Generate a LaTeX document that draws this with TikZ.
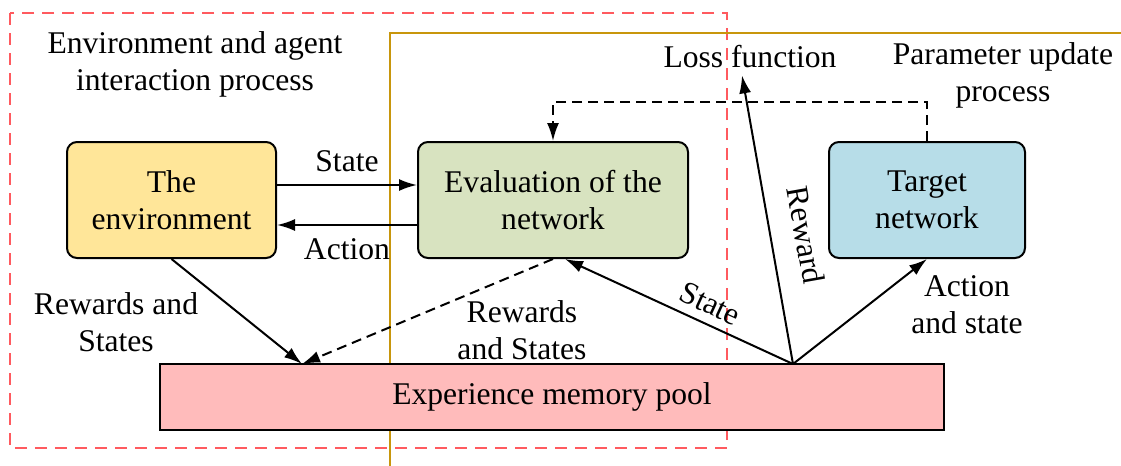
\documentclass[tikz,border=0pt]{standalone}
\usepackage{fontspec}
\setmainfont{Liberation Serif}
\usetikzlibrary{arrows.meta,calc,positioning}

\definecolor{giallo}{HTML}{FFE699}
\definecolor{verde}{HTML}{D8E3C0}
\definecolor{azzurro}{HTML}{B7DDE8}
\definecolor{rosa}{HTML}{FFBBBB}
\definecolor{rossotratto}{HTML}{FF5A5F}
\definecolor{oro}{HTML}{C8960C}

\begin{document}
\begin{tikzpicture}[x=0.5pt,y=-0.5pt,
    font=\fontsize{15.8}{18.5}\selectfont,
    blocco/.style={draw,line width=1pt,rounded corners=5pt,align=center,
      minimum height=58pt},
    freccia/.style={-{Latex[length=9pt,width=6pt]},line width=1pt},
    tratteggio/.style={dash pattern=on 5pt off 3pt}]
    \useasboundingbox (0,0) rectangle (1121,466);

    % the two process frames
    \draw[rossotratto,line width=1pt,dash pattern=on 6pt off 4pt] (10,13) rectangle (727,448);
    \draw[oro,line width=1pt] (390,466) |- (1121,33);

    % blocks
    \node[blocco,fill=giallo,minimum width=104.5pt] (env) at (171.5,200) {The\\environment};
    \node[blocco,fill=verde,minimum width=135pt] (eval) at (553,200) {Evaluation of the\\network};
    \node[blocco,fill=azzurro,minimum width=98pt] (target) at (927,200) {Target\\network};
    \node[draw,line width=1pt,fill=rosa,minimum width=392pt,minimum height=33pt] (pool) at (552,397) {Experience memory pool};

    % texts
    \node[align=center] (envtitle) at (195,64) {Environment and agent\\interaction process};
    \node[align=center] (paramtitle) at (1003,75) {Parameter update\\process};
    \node (loss) at (750,57) {Loss function};

    \coordinate (pin) at (302,364);
    \coordinate (fonte) at (793,364);

    % state / action between env and eval
    \draw[freccia] ([yshift=7.5pt]env.east) -- ([yshift=7.5pt]env.east -| eval.west)
      node[midway,above=3pt] (lstate) {State};
    \draw[freccia] ([yshift=-12.5pt]eval.west) -- ([yshift=-12.5pt]eval.west -| env.east)
      node[midway,below=3pt] (laction) {Action};

    % towards the memory pool
    \draw[freccia] (env.south) -- (pin);
    \node[align=center] (lrew1) at (116,322) {Rewards and\\States};
    \draw[freccia,tratteggio] (eval.south) -- (pin);
    \node[align=center] (lrew2) at (522,330) {Rewards\\and States};

    % out of the memory pool
    \draw[freccia] (fonte) -- ([xshift=6pt]eval.south)
      node[pos=0.4,sloped,above=1pt] (lstate2) {State};
    \draw[freccia] (fonte) -- ([xshift=-4pt]loss.south);
    \node[rotate=-80] (lreward) at (806,235) {Reward};
    \draw[freccia] (fonte) -- (target.south);
    \node[align=center] (lact2) at (967,305) {Action\\and state};

    % parameter update
    \draw[freccia,tratteggio] (target.north) -- ++(0,-39) -| (eval.north);
\end{tikzpicture}
\end{document}
